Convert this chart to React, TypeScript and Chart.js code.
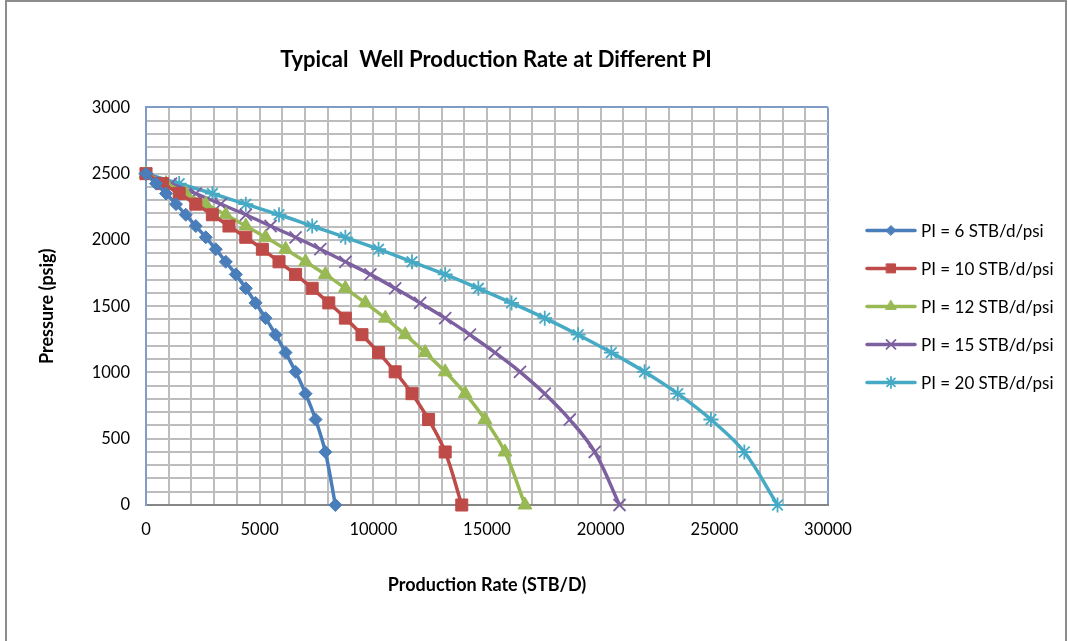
import React, { useEffect, useRef } from "react";
import { Chart, registerables } from "chart.js";
import { drawPoint } from "chart.js/helpers";

Chart.register(...registerables);

// Flowing bottom-hole pressure (psig) shared by every curve
const pressure = [2500, 2425, 2350, 2270, 2190, 2105, 2020, 1930, 1835, 1740, 1635, 1525, 1410, 1285, 1150, 1005, 840, 645, 400, 0];

// Production rate (STB/D) for each productivity index
const ratePI6 = [0, 440, 880, 1320, 1750, 2190, 2630, 3070, 3510, 3950, 4390, 4820, 5260, 5700, 6140, 6580, 7020, 7460, 7890, 8330];
const ratePI10 = [0, 730, 1460, 2190, 2920, 3650, 4390, 5120, 5850, 6580, 7310, 8040, 8770, 9500, 10230, 10960, 11700, 12430, 13160, 13890];
const ratePI12 = [0, 880, 1750, 2630, 3510, 4390, 5260, 6140, 7020, 7890, 8770, 9650, 10530, 11400, 12280, 13160, 14040, 14910, 15790, 16670];
const ratePI15 = [0, 1100, 2190, 3290, 4390, 5480, 6580, 7670, 8770, 9870, 10960, 12060, 13160, 14250, 15350, 16450, 17540, 18640, 19740, 20830];
const ratePI20 = [0, 1460, 2920, 4390, 5850, 7310, 8770, 10230, 11700, 13160, 14620, 16080, 17540, 19010, 20470, 21930, 23390, 24850, 26320, 27780];

const seriesLabels = [
  "PI = 6 STB/d/psi",
  "PI = 10 STB/d/psi",
  "PI = 12 STB/d/psi",
  "PI = 15 STB/d/psi",
  "PI = 20 STB/d/psi",
];
const seriesRates = [ratePI6, ratePI10, ratePI12, ratePI15, ratePI20];
const seriesColors = ["#4A7EBB", "#BE4B48", "#98B954", "#7D60A0", "#46AAC5"];
const seriesMarkers = ["rectRot", "rect", "triangle", "crossRot", "star"];
const markerRadius = [6.5, 8.5, 8, 8.5, 7.5];

const xMax = 30000;
const xLabelStep = 5000;
const xGridStep = 1000;
const yMax = 3000;
const yLabelStep = 500;
const yGridStep = 100;

const chartTitle = "Typical  Well Production Rate at Different PI";
const xTitle = "Production Rate (STB/D)";
const yTitle = "Pressure (psig)";

const FONT = "Lato, 'Open Sans', 'DejaVu Sans', sans-serif";
const FRAME_BLUE = "#7F9BC6";
const GRID = "#BDBDBD";

// Right-hand legend that shows each line with its marker
const lineLegend = {
  id: "lineLegend",
  afterDraw(chart: any) {
    const ctx = chart.ctx as CanvasRenderingContext2D;
    const area = chart.chartArea;
    const x0 = area.right + 39;
    const x1 = x0 + 48;
    const top = area.top + 123;
    const gap = 38;
    chart.data.datasets.forEach((ds: any, i: number) => {
      const y = top + i * gap;
      ctx.save();
      ctx.strokeStyle = ds.borderColor;
      ctx.lineWidth = 3.5;
      ctx.lineCap = "round";
      ctx.beginPath();
      ctx.moveTo(x0, y);
      ctx.lineTo(x1, y);
      ctx.stroke();
      ctx.fillStyle = ds.pointBackgroundColor;
      ctx.strokeStyle = ds.pointBorderColor;
      ctx.lineWidth = ds.pointBorderWidth;
      drawPoint(ctx, { pointStyle: ds.pointStyle, radius: ds.pointRadius * 0.75, borderWidth: ds.pointBorderWidth, rotation: 0 } as any, (x0 + x1) / 2, y);
      ctx.fillStyle = "#000";
      ctx.font = `17px ${FONT}`;
      ctx.textBaseline = "middle";
      ctx.textAlign = "left";
      ctx.fillText(ds.label, x1 + 6, y + 1);
      ctx.restore();
    });
  },
};

// Centre the title slightly right of the plot centre
const titleShift = {
  id: "titleShift",
  afterLayout(chart: any) {
    const t = chart.titleBlock;
    if (t) {
      t.left += 9;
      t.right += 9;
    }
  },
};

export default function App() {
  const canvasRef = useRef<HTMLCanvasElement | null>(null);

  useEffect(() => {
    const canvas = canvasRef.current;
    if (!canvas) return;

    const datasets = seriesLabels.map((label, i) => ({
      label,
      data: pressure.map((p, k) => ({ x: seriesRates[i][k], y: p })),
      borderColor: seriesColors[i],
      backgroundColor: seriesColors[i],
      pointBackgroundColor: seriesColors[i],
      pointBorderColor: seriesColors[i],
      pointBorderWidth: seriesMarkers[i] === "crossRot" || seriesMarkers[i] === "star" ? 1.8 : 1,
      pointStyle: seriesMarkers[i],
      pointRadius: markerRadius[i],
      borderWidth: 3.5,
      tension: 0.35,
      showLine: true,
      clip: false as any,
    }));

    const chart = new Chart(canvas, {
      type: "scatter",
      data: { datasets },
      options: {
        animation: false,
        responsive: false,
        events: [],
        layout: { padding: { left: 0, right: 240, top: 0, bottom: 0 } },
        plugins: {
          legend: { display: false },
          tooltip: { enabled: false },
          title: {
            display: true,
            text: chartTitle,
            fullSize: false,
            color: "#000",
            font: { family: FONT, size: 22, weight: "bold" },
            padding: { top: 47, bottom: 34 },
          },
        },
        scales: {
          x: {
            type: "linear",
            min: 0,
            max: xMax,
            afterFit: (s: any) => {
              s.height = 136;
            },
            ticks: {
              stepSize: xGridStep,
              autoSkip: false,
              maxRotation: 0,
              padding: 15,
              color: "#000",
              font: { family: FONT, size: 16.5 },
              callback: (v: any) => (Number(v) % xLabelStep === 0 ? String(v) : ""),
            },
            grid: {
              drawTicks: false,
              lineWidth: 2,
              color: (c: any) => (c.tick && c.tick.value === xMax ? FRAME_BLUE : GRID),
            },
            border: { display: true, color: "#868686", width: 2 },
            title: {
              display: true,
              text: xTitle,
              color: "#000",
              font: { family: FONT, size: 18, weight: "bold" },
              padding: { top: 0, bottom: 45 },
            },
          },
          y: {
            type: "linear",
            min: 0,
            max: yMax,
            afterFit: (s: any) => {
              s.width = 146;
            },
            ticks: {
              stepSize: yGridStep,
              autoSkip: false,
              padding: 16,
              color: "#000",
              font: { family: FONT, size: 16.5 },
              callback: (v: any) => (Number(v) % yLabelStep === 0 ? String(v) : ""),
            },
            grid: {
              drawTicks: false,
              lineWidth: 2,
              color: (c: any) => (c.tick && c.tick.value === yMax ? FRAME_BLUE : GRID),
            },
            border: { display: true, color: FRAME_BLUE, width: 2 },
            title: {
              display: true,
              text: yTitle,
              color: "#000",
              font: { family: FONT, size: 18, weight: "bold" },
              padding: { top: 36, bottom: 0 },
            },
          },
        },
      },
      plugins: [lineLegend, titleShift],
    });

    return () => chart.destroy();
  }, []);

  return (
    <div style={{ position: "fixed", left: 0, top: 0, width: 1068, height: 641, background: "#fff", overflow: "hidden" }}>
      <canvas ref={canvasRef} width={1068} height={641} style={{ position: "absolute", left: 0, top: 0 }} />
      <div
        style={{
          position: "absolute",
          left: 5,
          top: 0,
          width: 1058,
          height: 700,
          borderLeft: "2px solid #8C8C8C",
          borderTop: "2px solid #8C8C8C",
          borderRight: "2px solid #8C8C8C",
          pointerEvents: "none",
        }}
      />
    </div>
  );
}
